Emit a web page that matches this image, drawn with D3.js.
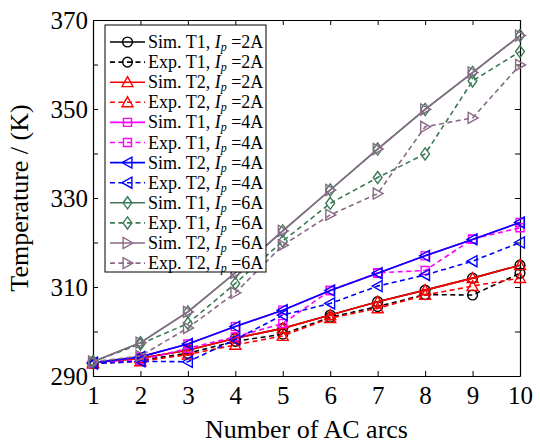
<!DOCTYPE html>
<html>
<head>
<meta charset="utf-8">
<script src="https://cdnjs.cloudflare.com/ajax/libs/d3/7.8.5/d3.min.js"></script>
<style>
	body { margin: 0; background: #fff; }
	svg, svg text { font-family: "Liberation Serif", "Times New Roman", serif; }
	.axis path, .axis line { stroke: #000; }
</style>
</head>
<body>
<svg width="540" height="443"></svg>
<script>
// data
var arcs = [1, 2, 3, 4, 5, 6, 7, 8, 9, 10];
var yTicks = [290, 300, 310, 320, 330, 340, 350, 360, 370];
var yLabels = [290, 310, 330, 350, 370];

var simT1_2A = [293, 294, 295.8, 298.5, 300.7, 303.7, 306.7, 309.3, 312, 314.9];
var expT1_2A = [292.8, 293.5, 295.1, 297.8, 299.4, 303.2, 305.6, 308.3, 308.2, 313.1];
var simT2_2A = [293, 294, 295.8, 298.5, 300.7, 303.7, 306.7, 309.3, 312, 314.9];
var expT2_2A = [292.8, 293.3, 294.8, 297, 299, 303, 305.2, 308.2, 310.2, 312];
var simT1_4A = [293, 294.3, 297.2, 301.1, 304.8, 309.2, 313.1, 317, 320.7, 324.5];
var expT1_4A = [292.8, 293.6, 296.2, 298.8, 301.8, 309.2, 313.2, 313.7, 320.8, 323.3];
var simT2_4A = [293, 294.3, 297.2, 301.1, 304.8, 309.2, 313.1, 317, 320.7, 324.5];
var expT2_4A = [292.8, 293.3, 293.2, 298.2, 303.7, 306.3, 310.2, 312.7, 315.8, 320];
var simT1_6A = [293.2, 297.5, 304.4, 313.2, 322.6, 331.8, 341, 349.9, 358.2, 366.5];
var expT1_6A = [293.2, 297.2, 301.8, 310.8, 320.3, 328.8, 334.6, 339.9, 356.3, 362.9];
var simT2_6A = [293.2, 297.5, 304.4, 313.2, 322.6, 331.8, 341, 349.9, 358.2, 366.5];
var expT2_6A = [293.2, 294.5, 300.8, 308.7, 319.4, 326.2, 331, 346, 348, 359.9];

var series = [
	{name: "Sim. T1, ", cur: "=2A", values: simT1_2A, color: "#000000", dash: null, marker: "circle"},
	{name: "Exp. T1, ", cur: "=2A", values: expT1_2A, color: "#000000", dash: "5,3.5", marker: "circle"},
	{name: "Sim. T2, ", cur: "=2A", values: simT2_2A, color: "#ff0000", dash: null, marker: "up"},
	{name: "Exp. T2, ", cur: "=2A", values: expT2_2A, color: "#ff0000", dash: "5,3.5", marker: "up"},
	{name: "Sim. T1, ", cur: "=4A", values: simT1_4A, color: "#ff00ff", dash: null, marker: "square"},
	{name: "Exp. T1, ", cur: "=4A", values: expT1_4A, color: "#ff00ff", dash: "5,3.5", marker: "square"},
	{name: "Sim. T2, ", cur: "=4A", values: simT2_4A, color: "#0000ff", dash: null, marker: "left"},
	{name: "Exp. T2, ", cur: "=4A", values: expT2_4A, color: "#0000ff", dash: "5,3.5", marker: "left"},
	{name: "Sim. T1, ", cur: "=6A", values: simT1_6A, color: "#3c7a55", dash: null, marker: "diamond"},
	{name: "Exp. T1, ", cur: "=6A", values: expT1_6A, color: "#3c7a55", dash: "5,3.5", marker: "diamond"},
	{name: "Sim. T2, ", cur: "=6A", values: simT2_6A, color: "#8a6a88", dash: null, marker: "right"},
	{name: "Exp. T2, ", cur: "=6A", values: expT2_6A, color: "#8a6a88", dash: "5,3.5", marker: "right"}
];

var svg = d3.select("svg"),
	margin = {top: 20, right: 20, bottom: 67, left: 93},
	width = 540 - margin.left - margin.right,
	height = 443 - margin.top - margin.bottom,
	g = svg.append("g").attr("transform", "translate(" + margin.left + "," + margin.top + ")");

var x = d3.scaleLinear().domain([1, 10]).range([0, width]),
	y = d3.scaleLinear().domain([290, 370]).range([height, 0]);

// marker shapes
function markerPath(type) {
	var s = 5.5;
	if (type == "up") return "M0," + (-s) + "L" + s + "," + (s * 0.8) + "L" + (-s) + "," + (s * 0.8) + "Z";
	if (type == "left") return "M" + (-s) + ",0L" + (s * 0.8) + "," + (-s) + "L" + (s * 0.8) + "," + s + "Z";
	if (type == "right") return "M" + s + ",0L" + (-s * 0.8) + "," + (-s) + "L" + (-s * 0.8) + "," + s + "Z";
	if (type == "diamond") return "M0," + (-s * 1.1) + "L" + (s * 0.8) + ",0L0," + (s * 1.1) + "L" + (-s * 0.8) + ",0Z";
	if (type == "square") return "M-4,-4L4,-4L4,4L-4,4Z";
	return d3.symbol().type(d3.symbolCircle).size(75)();
}

function styleTicks(a) {
	a.attr("font-family", null);
	a.selectAll("text").style("font-size", "25px").style("fill", "#000")
		.style("font-family", "'Liberation Serif', 'Times New Roman', serif");
}

// axes, ticks pointing inward on all four sides
var tickLen = 5;
g.append("g").attr("class", "axis")
	.attr("transform", "translate(0," + height + ")")
	.call(d3.axisBottom(x).tickValues(arcs).tickSizeInner(-tickLen).tickSizeOuter(0).tickPadding(10).tickFormat(d3.format("d")))
	.call(styleTicks);
g.append("g").attr("class", "axis")
	.call(d3.axisTop(x).tickValues(arcs).tickSizeInner(-tickLen).tickSizeOuter(0).tickFormat(""));
g.append("g").attr("class", "axis")
	.call(d3.axisLeft(y).tickValues(yTicks).tickSizeInner(-tickLen).tickSizeOuter(0).tickPadding(5)
		.tickFormat(function(d) { return yLabels.indexOf(d) >= 0 ? d : ""; }))
	.call(styleTicks);
g.append("g").attr("class", "axis")
	.attr("transform", "translate(" + width + ",0)")
	.call(d3.axisRight(y).tickValues(yTicks).tickSizeInner(-tickLen).tickSizeOuter(0).tickFormat(""));
g.selectAll(".axis path").style("stroke-width", 1.2);

// lines and markers
var line = d3.line()
	.x(function(d, i) { return x(arcs[i]); })
	.y(function(d) { return y(d); });

series.forEach(function(s) {
	g.append("path")
		.attr("d", line(s.values))
		.attr("fill", "none")
		.attr("stroke", s.color)
		.attr("stroke-width", 1.6)
		.attr("stroke-dasharray", s.dash);
	g.selectAll(null)
		.data(s.values)
		.enter()
		.append("path")
		.attr("transform", function(d, i) { return "translate(" + x(arcs[i]) + "," + y(d) + ")"; })
		.attr("d", markerPath(s.marker))
		.attr("fill", "none")
		.attr("stroke", s.color)
		.attr("stroke-width", 1.4);
});

// legend
var lg = svg.append("g").attr("transform", "translate(105,25)");
lg.append("rect")
	.attr("width", 161).attr("height", 247)
	.attr("fill", "#fff").attr("stroke", "#000").attr("stroke-width", 1);
series.forEach(function(s, i) {
	var yy = 17 + i * 20.1;
	lg.append("line")
		.attr("x1", 5).attr("x2", 40).attr("y1", yy).attr("y2", yy)
		.attr("stroke", s.color).attr("stroke-width", 1.6)
		.attr("stroke-dasharray", s.dash);
	lg.append("path")
		.attr("transform", "translate(22.5," + yy + ")")
		.attr("d", markerPath(s.marker))
		.attr("fill", "none").attr("stroke", s.color).attr("stroke-width", 1.4);
	var t = lg.append("text")
		.attr("x", 43).attr("y", yy + 6)
		.style("font-size", "18px");
	t.append("tspan").text(s.name);
	t.append("tspan").style("font-style", "italic").text("I");
	t.append("tspan").style("font-style", "italic").style("font-size", "12px").attr("dy", 3).text("p");
	t.append("tspan").attr("dy", -3).text(" " + s.cur);
});

// axis titles
svg.append("text")
	.attr("x", margin.left + width / 2).attr("y", 438)
	.attr("text-anchor", "middle")
	.style("font-size", "26px")
	.text("Number of AC arcs");
svg.append("text")
	.attr("transform", "translate(28," + (margin.top + height / 2) + ") rotate(-90)")
	.attr("text-anchor", "middle")
	.style("font-size", "26px")
	.text("Temperature / (K)");
</script>
</body>
</html>
